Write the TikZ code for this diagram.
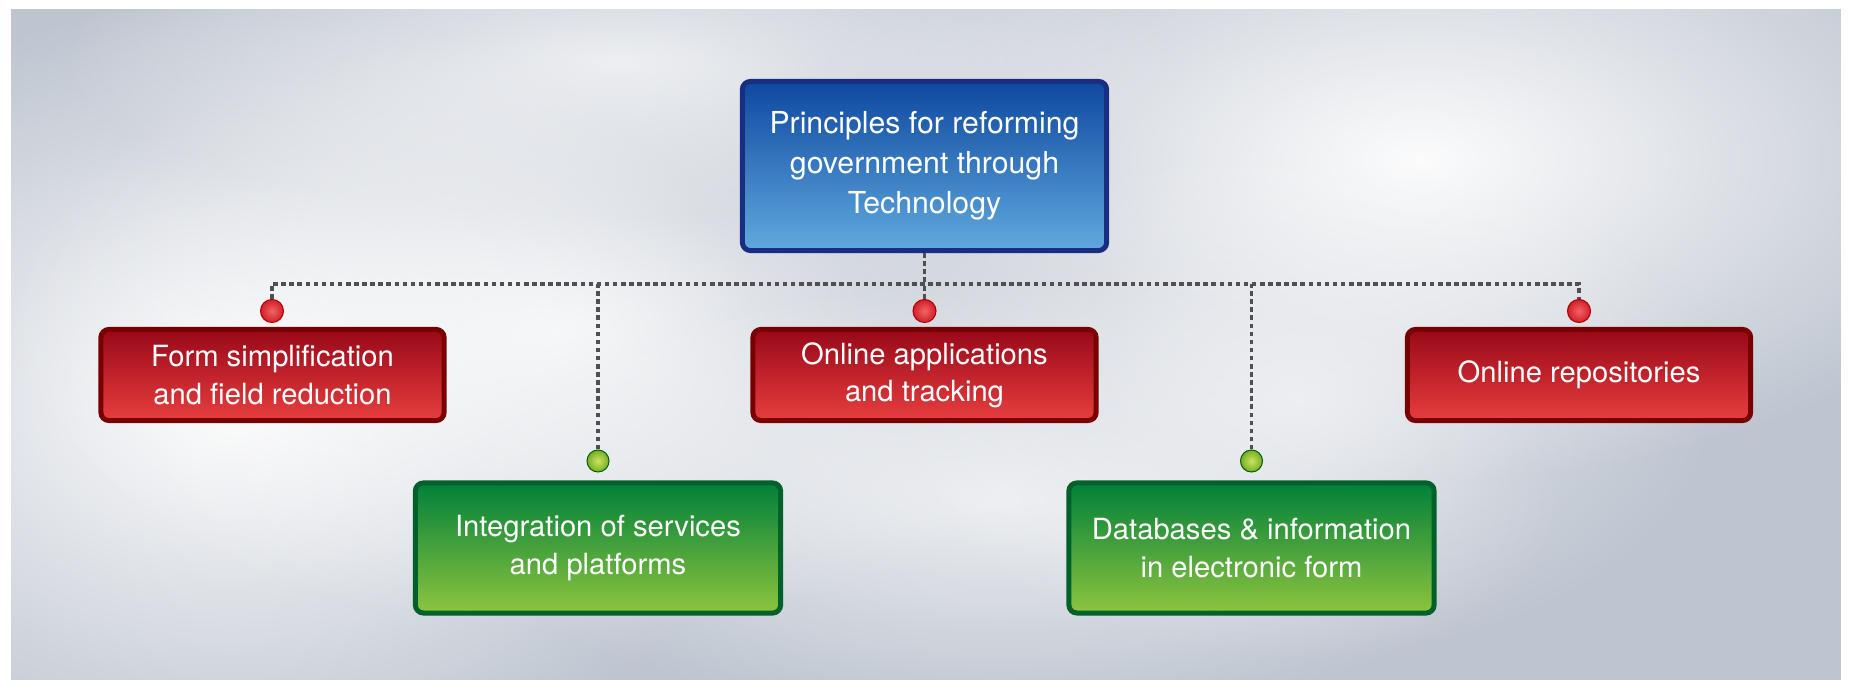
\documentclass[tikz,border=0pt]{standalone}
\usepackage{fontspec}
\setmainfont{TeX Gyre Heros}
\usetikzlibrary{fadings}
\definecolor{panelgrey}{RGB}{190,197,208}
\definecolor{bluetop}{RGB}{14,72,160}
\definecolor{bluebot}{RGB}{96,170,222}
\definecolor{blueline}{RGB}{25,45,130}
\definecolor{redtop}{RGB}{152,8,24}
\definecolor{redbot}{RGB}{232,62,62}
\definecolor{redline}{RGB}{120,0,0}
\definecolor{greentop}{RGB}{0,128,58}
\definecolor{greenbot}{RGB}{142,196,62}
\definecolor{greenline}{RGB}{0,98,42}
\definecolor{linkgrey}{RGB}{80,80,84}
\tikzfading[name=glow, inner color=transparent!0, outer color=transparent!100]

\begin{document}
\begin{tikzpicture}[x=0.01cm, y=-0.01cm,
    principle/.style ={rounded corners=0.08cm, line width=0.05cm, text=white, align=center,
      font=\fontsize{8.3}{10.6}\selectfont},
    topbox/.style ={principle, draw=blueline, top color=bluetop, bottom color=bluebot,
      minimum width=3.64cm, minimum height=1.69cm, font=\fontsize{8.6}{11.4}\selectfont},
    redbox/.style ={principle, draw=redline, top color=redtop, bottom color=redbot,
      minimum width=3.43cm, minimum height=0.91cm},
    greenbox/.style ={principle, draw=greenline, top color=greentop, bottom color=greenbot,
      minimum width=3.65cm, minimum height=1.30cm},
    reddot/.style ={circle, inner sep=0pt, minimum size=0.23cm, draw=red!70!black, line width=0.3pt,
      inner color={rgb,255:red,242;green,100;blue,100}, outer color={rgb,255:red,208;green,32;blue,42}},
    greendot/.style ={circle, inner sep=0pt, minimum size=0.22cm, draw=green!40!black, line width=0.3pt,
      inner color={rgb,255:red,205;green,228;blue,95}, outer color={rgb,255:red,118;green,172;blue,38}},
    link/.style ={draw=linkgrey, line width=1pt, dash pattern=on 1.3pt off 1pt}]
   \useasboundingbox (0,0) rectangle (1851,680);
   \fill[panelgrey] (11,9) rectangle (1841,680);
   \begin{scope}
     \clip (11,9) rectangle (1841,680);
     \fill[white, opacity=0.95, path fading=glow] (230,400) ellipse (540 and 400);
     \fill[white, opacity=0.8, path fading=glow] (560,330) ellipse (560 and 300);
     \fill[white, opacity=0.7, path fading=glow] (1000,500) ellipse (560 and 220);
     \fill[white, opacity=0.95, path fading=glow] (1420,160) ellipse (620 and 320);
     \fill[white, opacity=0.7, path fading=glow] (620,60) ellipse (560 and 160);
     \fill[white, opacity=0.55, path fading=glow] (1300,400) ellipse (420 and 260);
   \end{scope}

   \node[topbox] (T) at (924.5,166) {Principles for reforming\\government through\\Technology};
   \node[redbox] (A) at (272.5,375) {Form simplification\\and field reduction};
   \node[greenbox] (B) at (598,548) {Integration of services\\and platforms};
   \node[redbox] (C) at (924.5,375) {Online applications\\and tracking};
   \node[greenbox] (D) at (1251.5,548) {Databases \& information\\in electronic form};
   \node[redbox] (E) at (1579,375) {Online repositories};

   \node[reddot] (dA) at (272,311) {};
   \node[greendot] (dB) at (598,461) {};
   \node[reddot] (dC) at (924.5,311) {};
   \node[greendot] (dD) at (1251.5,461) {};
   \node[reddot] (dE) at (1579,311) {};
   \coordinate (bus) at (0,284);

   \draw[link] (T) -- (T |- bus);
   \draw[link] (dA) -- (dA |- bus) -- (dE |- bus) -- (dE);
   \draw[link] (dB) -- (dB |- bus);
   \draw[link] (dC) -- (dC |- bus);
   \draw[link] (dD) -- (dD |- bus);
 \end{tikzpicture}
\end{document}
